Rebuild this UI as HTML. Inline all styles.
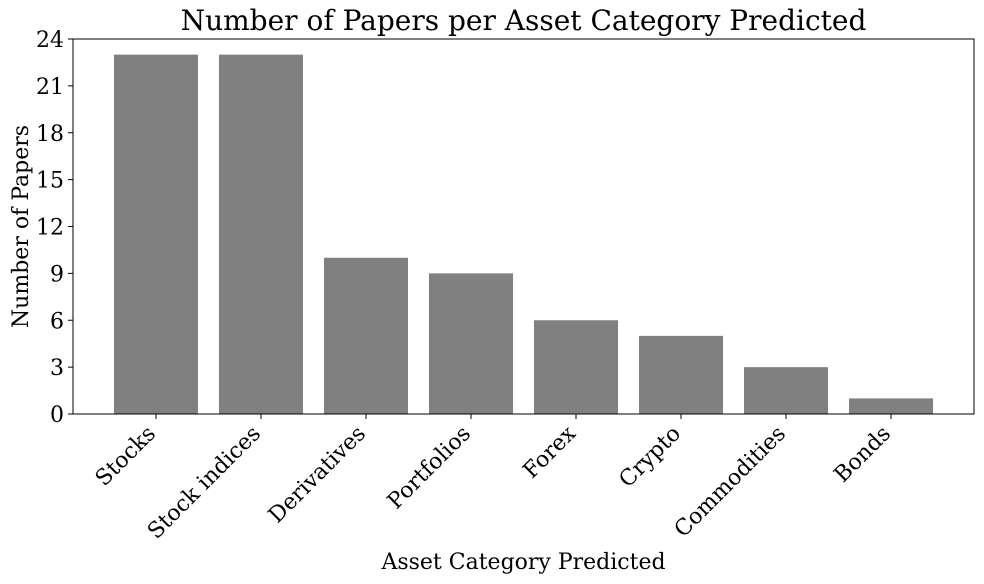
<!DOCTYPE html>
<html><head><meta charset="utf-8">
<style>
html,body{margin:0;padding:0;background:#fff;}
svg{display:block;font-family:"DejaVu Serif","Liberation Serif",serif;}
</style></head>
<body>
<svg id="chart" width="984" height="584" viewBox="0 0 984 584"></svg>
<script>
const categories = ["Stocks","Stock indices","Derivatives","Portfolios","Forex","Crypto","Commodities","Bonds"];
const paperCounts = [23,23,10,9,6,5,3,1];
const yTicks = [0,3,6,9,12,15,18,21,24];

const svg = document.getElementById('chart');
const NS = 'http://www.w3.org/2000/svg';
const L = 73, R = 974, T = 39, B = 414;
const xMin = -0.79, xMax = 7.79, yMax = 24;
function xs(v){ return L + (v - xMin) / (xMax - xMin) * (R - L); }
function ys(v){ return B - v / yMax * (B - T); }
function mk(tag, attrs, parent){
  const e = document.createElementNS(NS, tag);
  for (const k in attrs) e.setAttribute(k, attrs[k]);
  (parent || svg).appendChild(e);
  return e;
}

const barW = xs(0.4) - xs(-0.4);
categories.forEach((c, i) => {
  const b = mk('rect', {x: xs(i) - barW/2, y: ys(paperCounts[i]), width: barW, height: B - ys(paperCounts[i]), fill: '#808080'});
  
  
  const t = mk('line', {x1: xs(i), x2: xs(i), y1: B, y2: B + 5, stroke: '#000', 'stroke-width': 1});
  
  
  const lx = xs(i) - 10, ly = B + 10;
  const lab = mk('text', {x: lx, y: ly, 'font-size': 22, 'text-anchor': 'end', transform: `rotate(-45 ${lx} ${ly})`, 'dominant-baseline': 'hanging', fill: '#000'});
  lab.textContent = c;
  
  
});

yTicks.forEach(v => {
  const t = mk('line', {x1: L - 5, x2: L, y1: ys(v), y2: ys(v), stroke: '#000', 'stroke-width': 1});
  
  
  const lab = mk('text', {x: L - 9, y: ys(v) + 8, 'font-size': 22, 'text-anchor': 'end', fill: '#000'});
  lab.textContent = v;
  
  
});

const frame = mk('rect', {x: L, y: T, width: R - L, height: B - T, fill: 'none', stroke: '#000', 'stroke-width': 1});



const title = mk('text', {x: (L + R) / 2, y: 30, 'font-size': 28, 'text-anchor': 'middle', fill: '#000'});
title.textContent = 'Number of Papers per Asset Category Predicted';



const xt = mk('text', {x: (L + R) / 2, y: 569, 'font-size': 22, 'text-anchor': 'middle', fill: '#000'});
xt.textContent = 'Asset Category Predicted';



const yt = mk('text', {x: 28, y: (T + B) / 2, 'font-size': 22, 'text-anchor': 'middle', fill: '#000', transform: `rotate(-90 28 ${(T + B) / 2})`});
yt.textContent = 'Number of Papers';


</script>
</body></html>
